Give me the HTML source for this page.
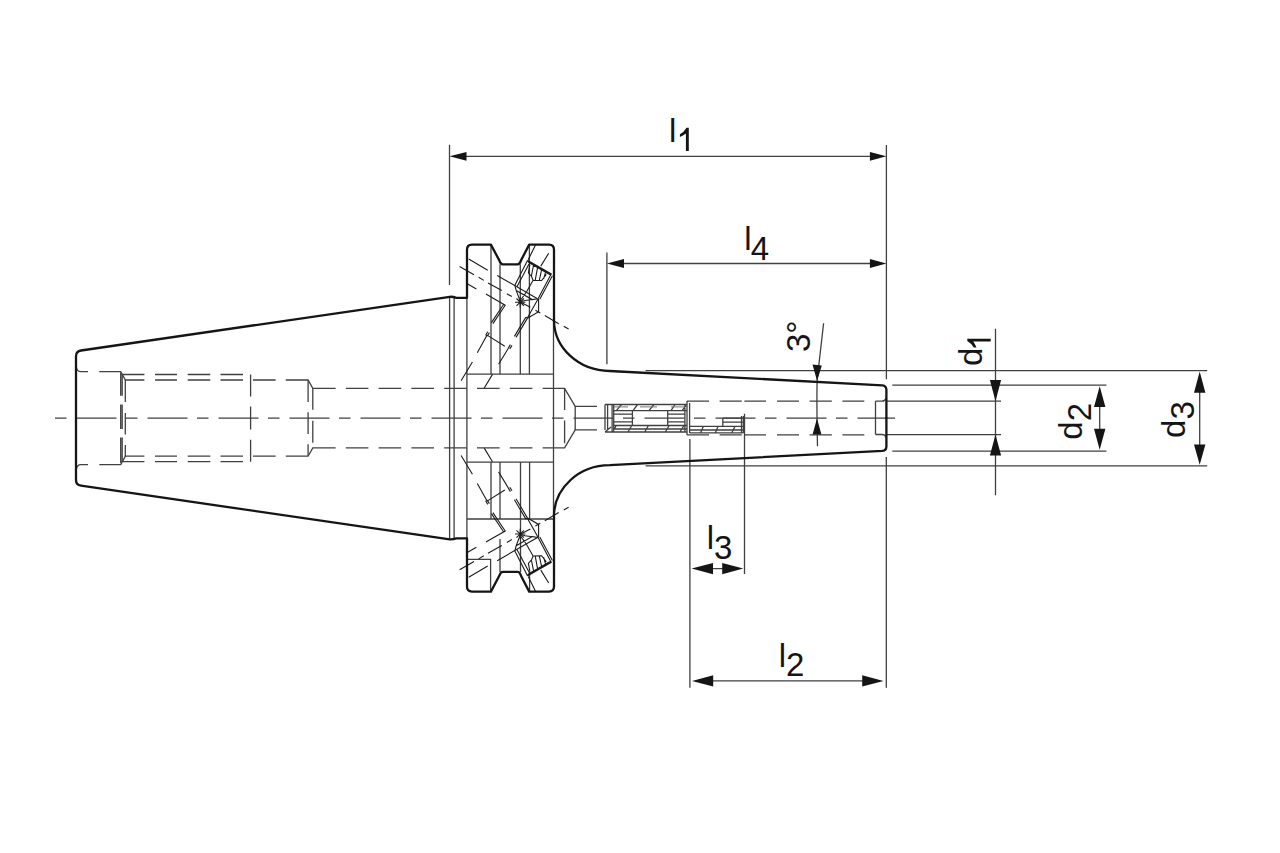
<!DOCTYPE html>
<html><head><meta charset="utf-8"><style>
html,body{margin:0;padding:0;background:#fff;width:1280px;height:853px;overflow:hidden}
svg{display:block}
text{font-family:"Liberation Sans",sans-serif;font-size:33px;fill:#151515}
.k{fill:none;stroke:#151515;stroke-width:2.3;stroke-linejoin:round;stroke-linecap:round}
.t{fill:none;stroke:#404040;stroke-width:1.3}
.h{fill:none;stroke:#404040;stroke-width:1.3;stroke-dasharray:22.6 10.2}
.c{fill:none;stroke:#404040;stroke-width:1.3;stroke-dasharray:40 9.5 11.5 10}
.a{fill:#151515;stroke:none}
#scrT .t{stroke:#1c1c1c;stroke-width:1.1}
#insert .t{stroke:#222;stroke-width:1.05}
</style></head><body>
<svg width="1280" height="853" viewBox="0 0 1280 853">
<rect width="1280" height="853" fill="#fff"/>
<!-- ===== DIMENSIONS ===== -->
<g id="dims">
<path class="t" d="M449.5 144.7V285 M886.4 145V379.2 M886.3 457V687.7 M606.9 252.5V364.2 M689.9 439V687.7 M744.5 413.8V573.9
M466 156.3H870 M624 263.5H870 M712 568.6H723 M712 680.9H863
M645.6 370.6H1207.2 M645.6 465.8H1207.2 M892.3 385.1H1106.4 M892.3 451.1H1106.4 M886 401.2H1001 M886 434.6H1001
M995.5 328.8V495.2 M1099.7 400V436 M1199.7 385V452
M823.6 323.2L817.1 380.3 Q816.6 413 817.5 446.3"/>
<!-- arrows -->
<path class="a" d="M449.5 156.3L466.5 151.9V160.7Z M886.4 156.3L869.9 151.9V160.7Z
M606.9 263.5L624 259.1V267.9Z M886.4 263.5L869.9 259.1V267.9Z
M691.6 568.6L713 563V574.2Z M743.3 568.6L722.2 563V574.2Z
M692 680.9L713.2 675.3V686.5Z M883.5 680.9L862.2 675.3V686.5Z
M995.5 401.2L989.9 380H1001.1Z M995.5 434.6L989.9 455.6H1001.1Z
M1099.7 386.2L1094 407H1105.4Z M1099.7 449.8L1094 428.8H1105.4Z
M1199.7 371.6L1194 392.8H1205.4Z M1199.7 464.8L1194 444.4H1205.4Z
M817.1 381L812.5 364.6L821.8 365.6Z M817 418.6L812.5 434.8H821.5Z"/>
</g>
<!-- ===== TEXT ===== -->
<text x="669" y="142">l</text>
<path class="a" id="one" transform="translate(679.9 151.1)" d="M6 0V-17.5Q3.1 -15.3 0 -14.2V-16.9Q4.1 -19.1 6.6 -23.4H8.9V0Z"/>
<text x="744.3" y="249.8">l<tspan dy="9.8" dx="-0.8">4</tspan></text>
<text x="706.7" y="549.2">l<tspan dy="9.4">3</tspan></text>
<text x="778.7" y="666.5">l<tspan dy="9.3">2</tspan></text>
<text transform="translate(982 366) rotate(-90)">d</text>
<path class="a" transform="translate(990.7 347.6) rotate(-90)" d="M6 0V-17.5Q3.1 -15.3 0 -14.2V-16.9Q4.1 -19.1 6.6 -23.4H8.9V0Z"/>
<text transform="translate(1082 439.7) rotate(-90)">d<tspan dy="9.2">2</tspan></text>
<text transform="translate(1184.5 437.9) rotate(-90)">d<tspan dy="9.4">3</tspan></text>
<text transform="translate(810 352.1) rotate(-90)">3°</text>
<!-- ===== CENTER LINE ===== -->
<path class="c" d="M55 418.1H895" style="stroke-dashoffset:49.5"/>

<!-- ===== LEFT BORE (hidden) ===== -->
<g id="bore">
<path id="boreT" class="t" d="M76.5 367.5Q77 371.6 81 371.6H88 M99.3 371.6H120.7L125.4 380H144.4 M155 380H177 M187.7 380H210.3 M220.5 380H243 M122 374.5H144.4 M155 374.5H177 M187.7 374.5H210.3 M220.5 374.5H243
M253 380H275.6 M285.8 380H308.1L312.8 388.3H335.6 M345.8 388.3H368.4 M378.6 388.3H401.2 M411.4 388.3H434 M444.2 388.3H466.9"/>
<use href="#boreT" transform="translate(0 836.2) scale(1 -1)"/>
<path class="t" d="M120.7 372.4V395.8 M120.7 404.4V429 M120.7 437.6V463 M122.2 374V395.8 M122.2 404.4V429 M122.2 437.6V462
M125.3 379.8V401.9 M125.3 413V434.5 M125.3 445V456.4
M250.6 374.5V396.4 M250.6 406.6V429.6 M250.6 439.8V461.7
M308.1 380.2V402 M308.1 412.2V434 M308.1 444.2V456
M312.8 388.3V409.8 M312.8 420.8V442.7"/>
</g>
<!-- ===== FLANGE INTERIOR ===== -->
<g id="flange">
<path class="t" d="M449.6 296.8V539.4 M454.1 297.8V538.4 M466.9 297.8V538.4 M553.5 320V516.2
M491 244.6V374.1 M500 264.3V374.1 M520.3 264.3V374.1 M529.4 244.6V374.1 M466.9 374.1H553.5
M491 462.1V519 M500 462.1V519 M500 538.9V571.9 M520.5 462.1V572 M529.6 462.1V519 M529.6 575V591.6 M466.9 462.1H553.5 M466.9 519H553.5
M466.9 559.3H490.6V591.6"/>
<g id="scrT">
<path class="t" d="M459.6 266.4L474 274.8 M478.6 277.3L483.8 280.4 M488 282.9L501.8 290.6 M506.8 293.7L511.8 296.6 M535.4 310.2L540.3 313 M544.8 315.5L558.7 323.7 M563.7 326.2L568.6 329"/>
<path class="t" d="M468.7 259L487.7 270.2 M497.2 275.5L537.5 298.7 M467.7 284L476.4 288.9 M485.9 294.1L505.2 305.2L492.9 323.6 M503.7 304.2L491.4 322.6 M487.1 335.1L504.8 346.2"/>
<path class="t" d="M461.1 380.7L472.4 362 M477.3 352.8L487.1 335.1 M498.6 364.3L509.4 346.5 M484.1 388.3L492.5 374.4 M535.5 245L528.2 259.7 M548.7 253.2L540.8 266.1
M485.6 335.4L487.8 331.8 M487.2 336.2L489.4 332.6 M508.2 348.2L510.4 344.6 M509.8 349L512 345.4"/>
<path class="t" d="M525.9 317.1L514.4 336.4 M527.5 318.1L516 337.4 M525.9 317.1L527.5 318.1 M538.2 298.7L527.1 318.4 M538.6 298.7V311.8L527.1 318.4"/>
<path class="t" d="M527.6 260.2L514.6 285.8 M529.8 262.6L516.8 287 M551.3 273.7L538.2 298.4 M552.4 275.8L539.8 299.2 M528.4 262.3L550.6 275 M515 285.8L516.1 290.2L519.6 299.6L520.2 302 M515.8 290.2L532.2 299.6L538.2 298.7 M520.2 302L525 300.5L538.2 298.7 M520.2 302L530.4 307.3
M529.9 264.6L528.4 272.8L531.7 276.7L533.1 280.2L541.6 280.5L546.3 274.3 M533.1 280.2L526.4 292L520.5 300.2
M533.5 265.5L531.4 276.2 M537.5 267.8L535.2 280.3 M541.5 270.1L539.3 280.4 M545.5 272.4L543.6 279"/>
<path style="fill:none;stroke:#1a1a1a;stroke-width:2" d="M527.6 260.8L551.3 274.3"/>
<path class="t" d="M515 302.2H525.4 M520.2 297V307.4 M516.5 298.5L523.9 305.9 M516.5 305.9L523.9 298.5"/>
</g>
<use href="#scrT" transform="translate(0 836.2) scale(1 -1)"/>
</g>
<!-- ===== SHANK BORE + INSERT ===== -->
<g id="shank">
<path id="shT" class="t" d="M477 388.3H499.6 M509.8 388.3H532.4 M542.6 388.3H553.5H564.6L575.2 406.3H597"/>
<use href="#shT" transform="translate(0 836.2) scale(1 -1)"/>
<path class="t" d="M564.6 388.3V410 M564.6 420.6V443.2 M575.2 406.3V430"/>
<!-- insert -->
<path class="t" d="M605 404.5H687 M605 432H687 M613.7 410.6H687 M613.7 414.2H632.4 M613.7 421.9H632.4 M613.7 425.5H687 M667.7 414.2H685 M667.7 421.9H685 M615 429H687
M605 404.5V430 M607.6 405V430 M612.1 405V432 M613.7 404.5V432 M632.4 410.6V425.5 M667.7 410.6V425.5 M684.9 404V432 M687 401V435 M689.6 403V433
M616.3 410.6L621.5 404.5 M633 410.6L637.6 404.5 M648.9 410.6L654 404.5 M671 410.6L675 404.5 M682 410.6L686 405.5 M612.7 432L616.3 425.5 M627.9 432L631.8 425.5 M644.7 432L648.5 425.5 M665.3 432L669.2 425.5 M680 432L684 425.5 M605 432L611 427"/>
<path style="fill:none;stroke:#777;stroke-width:1" d="M614 406.9H628 M640 406.9H657 M671 406.9H684"/>
<path class="t" d="M687 401.1H709 M719.6 401.1H741.8 M744.4 401.1H766 M777 401.1H799 M809.6 401.1H831.8 M842.4 401.1H864.3 M687 434.9H709 M719.6 434.9H741.8 M744.4 434.9H766 M777 434.9H799 M809.6 434.9H831.8 M842.4 434.9H864.3
M875.5 401.2V434.5 M875.5 401.2H882Q885 401.2 886 398.3 M875.5 434.5H882Q885 434.5 886 437.4
M689.6 426.4H743.4 M689.6 430H743.4 M689.6 432.8H743.4 M722.8 418.2H743.4 M722.8 422.2H743.4 M722.8 418.2V426.4 M741.5 416V433 M743.4 416V433
M700.6 432.8L703.3 426.4 M715.4 432.8L718 426.4 M731.8 432.8L735 426.4"/>
</g>
<!-- ===== OUTLINE ===== -->
<g id="outline">
<path class="k" id="halfk" d="M76 418.1V356.2Q76 351.2 81 350.5L449.8 296.8Q453 296.6 456.3 297.8H467V249.6Q467 244.6 472 244.6H490.9L499.3 260.4Q500.5 264.3 502.8 264.3H517.6Q519.9 264.3 521 260.4L529.2 244.6H549Q554 244.6 554 249.6V320A56 51 0 0 0 609.7 371L882.4 385.3Q886.4 385.8 886.4 389.8V418.1"/>
<use href="#halfk" transform="translate(0 836.2) scale(1 -1)"/>
</g>
</svg>
</body></html>
